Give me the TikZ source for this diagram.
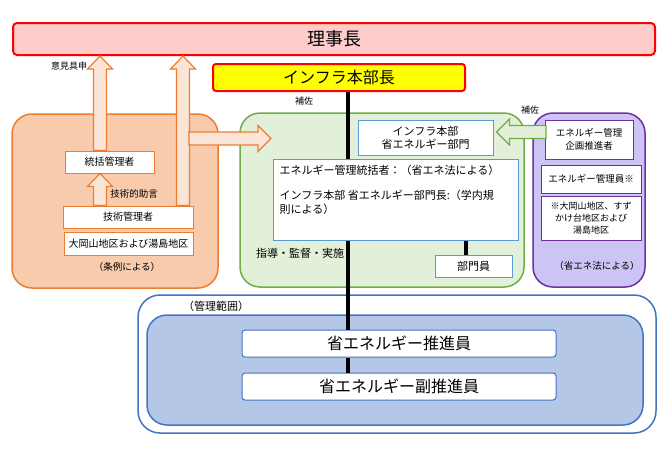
\documentclass[tikz,border=0pt]{standalone}
\usepackage{fontspec}
\setmainfont{Noto Sans CJK JP}
\usetikzlibrary{calc}

\definecolor{rijifill}{HTML}{FFCCCC}
\definecolor{redline}{HTML}{FF0000}
\definecolor{honbufill}{HTML}{FFFF00}
\definecolor{orgfill}{HTML}{F8CBAD}
\definecolor{orgline}{HTML}{ED7D31}
\definecolor{arrfill}{HTML}{FBE5D6}
\definecolor{grnfill}{HTML}{E2F0D9}
\definecolor{grnline}{HTML}{70AD47}
\definecolor{boxline}{HTML}{5B9BD5}
\definecolor{purfill}{HTML}{CCC4F4}
\definecolor{purline}{HTML}{7030A0}
\definecolor{blufill}{HTML}{B4C7E7}
\definecolor{bluline}{HTML}{4472C4}

\newcommand{\fs}[1]{\fontsize{#1}{#1}\selectfont}
% fat arrow pointing up: start, tip, style
\newcommand{\blockup}[3]{\draw[#3] ($(#1)+(-6.5,0)$) -- ($(#2)+(-6.5,13)$) -- ($(#2)+(-12.5,13)$) -- (#2) -- ($(#2)+(12.5,13)$) -- ($(#2)+(6.5,13)$) -- ($(#1)+(6.5,0)$) -- cycle;}
% fat arrow sideways: start, tip, direction (1 or -1), style
\newcommand{\blockside}[4]{\draw[#4] ($(#1)+(0,-6.5)$) -- ($(#2)+(-13*#3,-6.5)$) -- ($(#2)+(-13*#3,-13)$) -- (#2) -- ($(#2)+(-13*#3,13)$) -- ($(#2)+(-13*#3,6.5)$) -- ($(#1)+(0,6.5)$) -- cycle;}

\begin{document}
\begin{tikzpicture}[x=1pt,y=-1pt,
  region/.style={draw,line width=1.5pt,rounded corners=20pt,inner sep=0pt},
  box/.style={draw,fill=white,line width=1pt,inner sep=0pt,align=center},
  orgbox/.style={box,draw=orgline},
  blubox/.style={box,draw=boxline},
  purbox/.style={box,draw=purline},
  lbl/.style={inner sep=0pt,align=center,font=\fs{9}},
  spine/.style={line width=4pt,black},
  orgarrow/.style={draw=orgline,fill=arrfill,line width=1.2pt,line join=miter},
  grnarrow/.style={draw=grnline,fill=grnfill,line width=1.2pt,line join=miter}]
\useasboundingbox (0,0) rectangle (670,453);

\node[box,draw=redline,fill=rijifill,line width=2pt,rounded corners=4pt,minimum width=642pt,minimum height=32pt,font=\fs{18}] (riji) at (334,39) {理事長};
\node[box,draw=redline,fill=honbufill,line width=2pt,rounded corners=3pt,minimum width=252pt,minimum height=27pt,font=\fs{16}] (honbu) at (339,77.5) {インフラ本部長};

\node[region,draw=orgline,fill=orgfill,minimum width=206pt,minimum height=174pt] (orgreg) at (115,201) {};
\node[region,draw=grnline,fill=grnfill,minimum width=284pt,minimum height=174pt] (grnreg) at (382,200) {};
\node[region,draw=purline,fill=purfill,minimum width=112pt,minimum height=174pt] (purreg) at (589,200) {};
\node[region,draw=bluline,fill=white,rounded corners=22pt,minimum width=518pt,minimum height=138pt] (outreg) at (397,364) {};
\node[region,draw=bluline,fill=blufill,minimum width=496pt,minimum height=110pt] (inreg) at (395,370) {};

\coordinate (sx) at (348,0);
\coordinate (bx) at (466,0);
\node[box,draw=bluline,rounded corners=3pt,minimum width=314pt,minimum height=27pt,font=\fs{16}] (suishin) at (399,343.5) {省エネルギー推進員};
\node[box,draw=bluline,rounded corners=3pt,minimum width=314pt,minimum height=27pt,font=\fs{16}] (fuku) at (399,386.5) {省エネルギー副推進員};
\draw[spine] (honbu.south -| sx) -- (suishin.north -| sx);
\draw[spine] (suishin.south -| sx) -- (fuku.north -| sx);

\node[blubox,minimum width=135pt,minimum height=35pt,font=\fontsize{11}{13}\selectfont] (bumon) at (425.5,137.5) {インフラ本部\\省エネルギー部門};
\node[blubox,minimum width=245pt,minimum height=81pt] (bigbox) at (395.5,199.5) {};
\node[lbl,anchor=north west,align=left,font=\fontsize{11}{14}\selectfont] (bigtxt) at ($(bigbox.north west)+(7,6)$) {エネルギー管理統括者：（省エネ法による）\\[11pt]インフラ本部 省エネルギー部門長:（学内規\\則による）};
\node[blubox,minimum width=77pt,minimum height=22pt,font=\fs{11}] (buin) at (473.5,266) {部門員};
\draw[spine] (bigbox.south -| bx) -- (buin.north -| bx);

\node[orgbox,minimum width=89pt,minimum height=22pt,font=\fs{10}] (tokatsu) at (109.5,162) {統括管理者};
\node[orgbox,minimum width=130pt,minimum height=22pt,font=\fs{10}] (gijutsu) at (128,217) {技術管理者};
\node[orgbox,minimum width=129pt,minimum height=23pt,font=\fs{10}] (chiku) at (128.5,243.5) {大岡山地区および湯島地区};

\node[purbox,minimum width=88pt,minimum height=39pt,font=\fontsize{9.5}{13}\selectfont] (kikaku) at (589,139.5) {エネルギー管理\\企画推進者};
\node[purbox,minimum width=100pt,minimum height=28pt,font=\fs{9.5}] (kanriin) at (591,179) {エネルギー管理員※};
\node[purbox,minimum width=100pt,minimum height=44pt,font=\fontsize{9}{12}\selectfont] (chiku2) at (591,218) {※大岡山地区、すず\\かけ台地区および\\湯島地区};

\coordinate (a1) at (100,0);
\coordinate (a2) at (183,0);
\blockup{tokatsu.north -| a1}{riji.south -| a1}{orgarrow}
\blockup{gijutsu.north -| a2}{riji.south -| a2}{orgarrow}
\blockup{gijutsu.north -| a1}{tokatsu.south -| a1}{orgarrow}
\coordinate (h1) at (189,138.5);
\coordinate (h2) at (271,138.5);
\blockside{h1}{h2}{1}{orgarrow}
\coordinate (g1) at (546,132);
\coordinate (g2) at ($(bumon.east |- g1)+(3,0)$);
\blockside{g1}{g2}{-1}{grnarrow}

\node[lbl,font=\fs{9}] (iken) at (69,66) {意見具申};
\node[lbl,font=\fs{9.5}] (jogen) at (134,194) {技術的助言};
\node[lbl,font=\fs{9.5}] (jorei) at (127,267) {（条例による）};
\node[lbl,font=\fs{9}] (hosa1) at (304,101) {補佐};
\node[lbl,font=\fs{9}] (hosa2) at (530,110) {補佐};
\node[lbl,font=\fs{11}] (shido) at (300,253) {指導・監督・実施};
\node[lbl,font=\fs{9.5}] (shoene) at (597,266) {（省エネ法による）};
\node[lbl,font=\fs{11}] (hani) at (216,306) {（管理範囲）};
\end{tikzpicture}
\end{document}
